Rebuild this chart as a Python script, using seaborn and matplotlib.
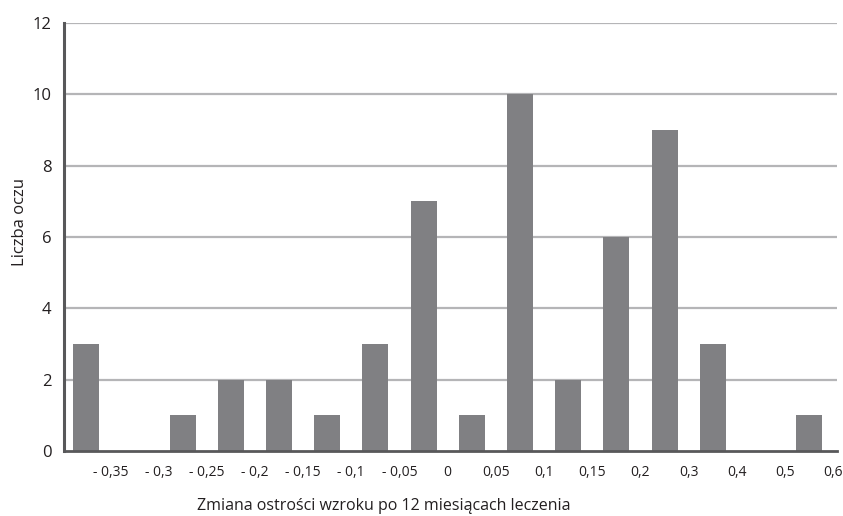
import matplotlib
matplotlib.use("Agg")
import matplotlib.pyplot as plt
import seaborn as sns
import pandas as pd
import numpy as np

# bins of change in visual acuity (label at right edge of each bin)
bin_labels = ["- 0,35", "- 0,3", "- 0,25", "- 0,2", "- 0,15", "- 0,1", "- 0,05", "0",
              "0,05", "0,1", "0,15", "0,2", "0,3", "0,4", "0,5", "0,6"]
eye_counts = [3, 0, 1, 2, 2, 1, 3, 7, 1, 10, 2, 6, 9, 3, 0, 1]
y_ticks = [0, 2, 4, 6, 8, 10, 12]

df = pd.DataFrame({"bin": bin_labels, "count": eye_counts})

sns.set_style("white")
plt.rcParams["font.family"] = ["Open Sans", "DejaVu Sans"]

fig = plt.figure(figsize=(8.43, 5.16), dpi=100)
ax = fig.add_axes([0.0759, 0.126, 0.9166, 0.8294])

sns.barplot(data=df, x="bin", y="count", color="#808083", saturation=1,
            width=0.54, linewidth=0, ax=ax, zorder=2)

ax.set_xlim(-0.46, len(bin_labels) - 0.43)
ax.set_ylim(0, 12)
ax.set_yticks(y_ticks)
ax.set_yticklabels([str(t) for t in y_ticks], fontsize=12, color="#231f20")
for t in y_ticks[1:]:
    ax.axhline(t, color="#b5b5b7", lw=1.6, zorder=1)

# labels sit at the boundary between bars
ax.set_xticks(np.arange(len(bin_labels)) + 0.5)
ax.set_xticklabels(bin_labels, fontsize=10, color="#231f20")
ax.tick_params(axis="both", length=0)
ax.tick_params(axis="y", pad=9)
ax.tick_params(axis="x", pad=10)

for side in ["top", "right"]:
    ax.spines[side].set_visible(False)
ax.spines["left"].set_color("#58585a")
ax.spines["left"].set_linewidth(2.2)
ax.spines["bottom"].set_color("#58585a")
ax.spines["bottom"].set_linewidth(2)
ax.spines["bottom"].set_zorder(3)

ax.set_xlabel("Zmiana ostrości wzroku po 12 miesiącach leczenia", fontsize=11.5, color="#231f20")
ax.xaxis.set_label_coords(0.414, -0.11)
ax.set_ylabel("Liczba oczu", fontsize=12, color="#231f20")
ax.yaxis.set_label_coords(-0.047, 0.535)

fig.savefig("out.png", dpi=100)
